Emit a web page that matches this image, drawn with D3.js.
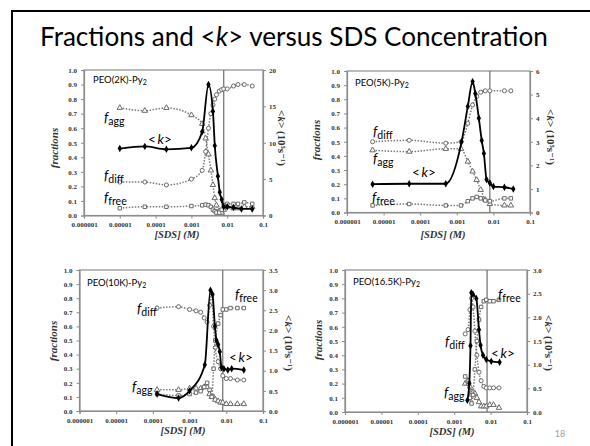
<!DOCTYPE html>
<html><head><meta charset="utf-8">
<script src="https://cdn.jsdelivr.net/npm/d3@7"></script>
<style>body{margin:0;background:#fff;}svg{display:block;}</style>
</head><body><svg id="c" width="590" height="446"></svg>
<script>
// ---------------- DATA ----------------
const xTickValues = [1e-6, 1e-5, 1e-4, 1e-3, 1e-2, 1e-1];
const xTickLabels = ["0.000001", "0.00001", "0.0001", "0.001", "0.01", "0.1"];
const fracTicks = [0, 0.1, 0.2, 0.3, 0.4, 0.5, 0.6, 0.7, 0.8, 0.9, 1.0];
const cmc = 0.008;

// PEO(2K)-Py2
const a_x    = [1e-5, 5e-5, 2e-4, 1e-3, 2e-3, 2.5e-3, 3e-3, 3.5e-3, 4e-3, 4.5e-3, 5e-3, 6e-3, 7e-3, 8e-3, 1e-2, 1.5e-2, 2e-2, 3e-2, 5e-2];
const a_diff = [0.23, 0.23, 0.21, 0.25, 0.31, 0.44, 0.60, 0.70, 0.76, 0.80, 0.83, 0.855, 0.865, 0.87, 0.87, 0.89, 0.90, 0.90, 0.89];
const a_agg  = [0.74, 0.72, 0.74, 0.69, 0.63, 0.53, 0.42, 0.31, 0.21, 0.12, 0.07, 0.03, 0.02, 0.04, 0.06, 0.05, 0.05, 0.06, 0.06];
const a_free = [0.05, 0.06, 0.06, 0.065, 0.07, 0.075, 0.07, 0.06, 0.04, 0.03, 0.02, 0.02, 0.04, 0.07, 0.08, 0.08, 0.08, 0.09, 0.08];
const a_kx   = [1e-5, 5e-5, 2e-4, 1e-3, 2e-3, 3e-3, 4e-3, 4.5e-3, 5.5e-3, 6.2e-3, 7e-3, 8e-3, 1e-2, 1.5e-2, 2.5e-2, 5e-2];
const a_k    = [9.2, 9.5, 9.1, 9.3, 11.5, 18.0, 14.3, 9.6, 5.4, 3.2, 2.2, 1.2, 1.2, 1.1, 0.9, 0.9];
const a_kTicks = [0, 5, 10, 15, 20];

// PEO(5K)-Py2
const b_x    = [5e-6, 5e-5, 5e-4, 1.3e-3, 2e-3, 2.7e-3, 3.5e-3, 4.5e-3, 6e-3, 8e-3, 2e-2, 3e-2];
const b_diff = [0.50, 0.51, 0.49, 0.50, 0.63, 0.76, 0.82, 0.85, 0.86, 0.86, 0.86, 0.86];
const b_agg  = [0.44, 0.43, 0.45, 0.45, 0.36, 0.29, 0.23, 0.16, 0.09, 0.06, 0.05, 0.05];
const b_free = [0.05, 0.06, 0.05, 0.05, 0.08, 0.10, 0.11, 0.10, 0.085, 0.08, 0.10, 0.10];
const b_kx   = [5e-6, 5e-5, 5e-4, 1.35e-3, 2e-3, 2.7e-3, 3.2e-3, 4e-3, 4.8e-3, 5.5e-3, 6.5e-3, 8e-3, 1e-2, 2e-2, 3.5e-2];
const b_k    = [1.2, 1.22, 1.22, 3.0, 4.5, 5.55, 5.05, 4.0, 3.05, 2.5, 1.4, 1.25, 1.1, 1.07, 1.0];
const b_kTicks = [0, 1, 2, 3, 4, 5, 6];

// PEO(10K)-Py2
const c_x    = [1.3e-4, 5e-4, 1e-3, 1.5e-3, 2e-3, 2.5e-3, 3e-3, 3.5e-3, 4e-3, 4.5e-3, 5e-3, 6e-3, 7e-3, 8e-3, 1e-2, 1.3e-2, 2e-2, 3e-2];
const c_diff = [0.73, 0.74, 0.72, 0.71, 0.70, 0.66, 0.63, 0.75, 0.82, 0.60, 0.45, 0.35, 0.30, 0.25, 0.23, 0.23, 0.22, 0.22];
const c_agg  = [0.15, 0.15, 0.16, 0.16, 0.16, 0.17, 0.17, 0.12, 0.10, 0.10, 0.08, 0.07, 0.06, 0.06, 0.05, 0.05, 0.05, 0.05];
const c_free = [0.12, 0.11, 0.12, 0.13, 0.14, 0.17, 0.20, 0.15, 0.10, 0.30, 0.50, 0.62, 0.68, 0.72, 0.72, 0.73, 0.73, 0.73];
const c_kx   = [1.3e-4, 5e-4, 1e-3, 2.6e-3, 3.7e-3, 4.2e-3, 4.9e-3, 5.4e-3, 6e-3, 6.65e-3, 7.4e-3, 8.6e-3, 1.1e-2, 1.4e-2, 3e-2];
const c_k    = [0.42, 0.32, 0.50, 1.15, 3.0, 2.9, 2.1, 1.75, 1.65, 1.47, 1.08, 1.05, 1.02, 1.05, 1.02];
const c_kTicks = [0, 0.5, 1.0, 1.5, 2.0, 2.5, 3.0, 3.5];

// PEO(16.5K)-Py2
const d_x    = [2.0e-3, 2.4e-3, 2.7e-3, 3.0e-3, 3.3e-3, 3.7e-3, 4.2e-3, 4.8e-3, 5.5e-3, 6.5e-3, 7.6e-3, 9.5e-3, 1.2e-2, 1.7e-2];
const d_diff = [0.55, 0.58, 0.72, 0.80, 0.74, 0.57, 0.40, 0.28, 0.22, 0.18, 0.17, 0.17, 0.17, 0.17];
const d_agg  = [0.20, 0.22, 0.18, 0.14, 0.14, 0.13, 0.10, 0.07, 0.04, 0.04, 0.04, 0.05, 0.05, 0.03];
const d_free = [0.25, 0.20, 0.10, 0.06, 0.12, 0.30, 0.50, 0.65, 0.74, 0.78, 0.79, 0.78, 0.78, 0.79];
const d_kx   = [2.3e-3, 2.6e-3, 2.8e-3, 2.95e-3, 3.27e-3, 4.05e-3, 4.8e-3, 5.3e-3, 6.2e-3, 7.6e-3, 1.04e-2, 1.77e-2];
const d_k    = [0.25, 0.6, 1.4, 2.52, 2.49, 2.4, 1.74, 1.41, 1.2, 1.11, 1.07, 1.05];
const d_kTicks = [0, 0.5, 1.0, 1.5, 2.0, 2.5, 3.0];

// ---------------- LAYOUT ----------------
const panels = [
  {name:"PEO(2K)-Py", box:{l:84,r:263,t:70,b:215.5}, x:a_x, diff:a_diff, agg:a_agg, free:a_free, kx:a_kx, k:a_k, kTicks:a_kTicks, kFmt:d3.format("d"),
   yl:{x:55,y:148}, yr:{x:281,y:138}, xl:{x:177,y:238}, name_pos:[93,83],
   ann:{agg:[104,122], k:[148,144], diff:[104,180], free:[104,202]}},
  {name:"PEO(5K)-Py", box:{l:347,r:530,t:71,b:212.5}, x:b_x, diff:b_diff, agg:b_agg, free:b_free, kx:b_kx, k:b_k, kTicks:b_kTicks, kFmt:d3.format("d"),
   yl:{x:317,y:140}, yr:{x:550,y:137}, xl:{x:443,y:238}, name_pos:[355,86],
   ann:{diff:[373,136], agg:[373,163], k:[412,177], free:[372,202]}},
  {name:"PEO(10K)-Py", box:{l:79.5,r:263,t:270,b:411}, x:c_x, diff:c_diff, agg:c_agg, free:c_free, kx:c_kx, k:c_k, kTicks:c_kTicks, kFmt:d3.format(".1f"),
   yl:{x:54,y:341}, yr:{x:288,y:343}, xl:{x:183,y:434}, name_pos:[87,286],
   ann:{diff:[137,313], agg:[132,391], free:[235,299], k:[229,362]}},
  {name:"PEO(16.5K)-Py", box:{l:345,r:527,t:270,b:412}, x:d_x, diff:d_diff, agg:d_agg, free:d_free, kx:d_kx, k:d_k, kTicks:d_kTicks, kFmt:d3.format(".1f"),
   yl:{x:319,y:340}, yr:{x:548,y:343}, xl:{x:452,y:435}, name_pos:[353,285],
   ann:{free:[498,299], diff:[445,346], k:[491,358], agg:[444,397]}}
];

const svg = d3.select("#c");
const SANS = "Lato, 'Open Sans', sans-serif";
const SERIF = "'Liberation Serif', 'DejaVu Serif', serif";

svg.append("rect").attr("x",12).attr("y",11).attr("width",620).attr("height",500)
  .attr("fill","none").attr("stroke","#000").attr("stroke-width",2);

const title = svg.append("text").attr("x",40).attr("y",46)
  .attr("font-family",SANS).attr("font-size",24).attr("fill","#000");
title.append("tspan").text("Fractions and <");
title.append("tspan").attr("font-style","italic").text("k");
title.append("tspan").text("> versus SDS Concentration");
const tw = title.node().getComputedTextLength();
title.attr("font-size", 24 * 508 / tw);

svg.append("text").attr("x",560).attr("y",437).attr("text-anchor","middle")
  .attr("font-family",SANS).attr("font-size",9).attr("fill","#a0a0a0").text("18");

function annot(g, pos, sub) {
  const t = g.append("text").attr("x",pos[0]).attr("y",pos[1])
    .attr("font-family",SANS).attr("font-size",13.5).attr("fill","#000");
  t.append("tspan").attr("font-style","italic").text("f");
  t.append("tspan").attr("font-size",10.5).attr("dy",3).text(sub);
}
function annotK(g, pos) {
  const t = g.append("text").attr("x",pos[0]).attr("y",pos[1])
    .attr("font-family",SANS).attr("font-size",13.5).attr("fill","#000");
  t.append("tspan").text("<\u2009");
  t.append("tspan").attr("font-style","italic").text("k");
  t.append("tspan").text(">");
}

panels.forEach(p => {
  const B = p.box;
  const g = svg.append("g");
  const x = d3.scaleLog().domain([1e-6, 1e-1]).range([B.l, B.r]);
  const yF = d3.scaleLinear().domain([0, 1]).range([B.b, B.t]);
  const yK = d3.scaleLinear().domain([0, d3.max(p.kTicks)]).range([B.b, B.t]);

  g.append("rect").attr("x",B.l).attr("y",B.t).attr("width",B.r-B.l).attr("height",B.b-B.t)
    .attr("fill","none").attr("stroke","#8c8c8c").attr("stroke-width",1.2);

  const ax = g.append("g").attr("transform",`translate(0,${B.b})`)
    .call(d3.axisBottom(x).tickValues(xTickValues).tickFormat((d,i)=>xTickLabels[i]).tickSize(3).tickPadding(4));
  const al = g.append("g").attr("transform",`translate(${B.l},0)`)
    .call(d3.axisLeft(yF).tickValues(fracTicks).tickFormat(d3.format(".1f")).tickSize(3).tickPadding(4));
  const ar = g.append("g").attr("transform",`translate(${B.r},0)`)
    .call(d3.axisRight(yK).tickValues(p.kTicks).tickFormat(p.kFmt).tickSize(3).tickPadding(3));
  [ax, al, ar].forEach(a => {
    a.select(".domain").attr("stroke","#8c8c8c").attr("stroke-width",1.2);
    a.selectAll(".tick line").attr("stroke","#8c8c8c");
    a.selectAll("text").attr("font-family",SERIF).attr("font-size",7).attr("fill","#333").attr("font-weight","bold");
  });

  g.append("line").attr("x1",x(cmc)).attr("x2",x(cmc)).attr("y1",B.t).attr("y2",B.b)
    .attr("stroke","#6e6e6e").attr("stroke-width",1.2);

  const fracSeries = [
    {v:p.agg, sym:d3.symbolTriangle, size:13},
    {v:p.diff, sym:d3.symbolCircle, size:13},
    {v:p.free, sym:d3.symbolSquare, size:12}
  ];
  fracSeries.forEach(s => {
    const pts = p.x.map((xv,i)=>[xv, s.v[i]]);
    g.append("path").datum(pts)
      .attr("d", d3.line().x(d=>x(d[0])).y(d=>yF(d[1])).curve(d3.curveMonotoneX))
      .attr("fill","none").attr("stroke","#7a7a7a").attr("stroke-width",1.5).attr("stroke-dasharray","1.5,1.5");
    g.selectAll(null).data(pts).enter().append("path")
      .attr("transform", d=>`translate(${x(d[0])},${yF(d[1])})`)
      .attr("d", d3.symbol().type(s.sym).size(s.size))
      .attr("fill","#fff").attr("stroke","#6a6a6a").attr("stroke-width",1);
  });

  const kp = p.kx.map((xv,i)=>[xv, p.k[i]]);
  g.append("path").datum(kp)
    .attr("d", d3.line().x(d=>x(d[0])).y(d=>yK(d[1])).curve(d3.curveMonotoneX))
    .attr("fill","none").attr("stroke","#000").attr("stroke-width",1.8);
  g.selectAll(null).data(kp).enter().append("path")
    .attr("transform", d=>`translate(${x(d[0])},${yK(d[1])})`)
    .attr("d", d3.symbol().type(d3.symbolDiamond).size(16))
    .attr("fill","#000");

  g.append("text").attr("transform",`translate(${p.yl.x},${p.yl.y}) rotate(-90)`)
    .attr("text-anchor","middle").attr("dominant-baseline","middle")
    .attr("font-family",SERIF).attr("font-size",11).attr("font-style","italic").attr("font-weight","bold")
    .attr("fill","#333").text("fractions");
  const rt = g.append("text").attr("transform",`translate(${p.yr.x},${p.yr.y}) rotate(90)`)
    .attr("text-anchor","middle").attr("dominant-baseline","middle")
    .attr("font-family",SERIF).attr("font-size",11).attr("font-weight","bold").attr("fill","#333");
  rt.append("tspan").text("<");
  rt.append("tspan").attr("font-style","italic").text("k");
  rt.append("tspan").text("> (10\u2075s\u207B\u00B9)");
  g.append("text").attr("x",p.xl.x).attr("y",p.xl.y).attr("text-anchor","middle")
    .attr("font-family",SERIF).attr("font-size",10.5).attr("font-style","italic").attr("font-weight","bold")
    .attr("fill","#333").text("[SDS] (M)");

  const nm = g.append("text").attr("x",p.name_pos[0]).attr("y",p.name_pos[1])
    .attr("font-family",SANS).attr("font-size",9.5).attr("fill","#000");
  nm.append("tspan").text(p.name);
  nm.append("tspan").attr("font-size",7).attr("dy",2).text("2");

  annot(g, p.ann.agg, "agg");
  annot(g, p.ann.diff, "diff");
  annot(g, p.ann.free, "free");
  annotK(g, p.ann.k);
});
</script></body></html>
